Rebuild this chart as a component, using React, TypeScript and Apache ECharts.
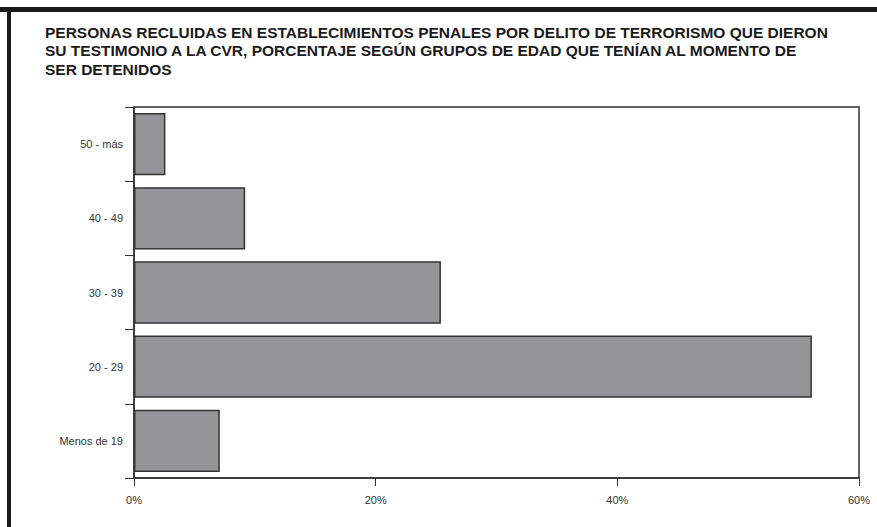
import React, { useEffect, useRef } from "react";
import * as echarts from "echarts";

const titleLines = [
  "PERSONAS RECLUIDAS EN ESTABLECIMIENTOS PENALES POR DELITO DE TERRORISMO QUE DIERON",
  "SU TESTIMONIO A LA CVR, PORCENTAJE SEGÚN GRUPOS DE EDAD QUE TENÍAN AL MOMENTO DE",
  "SER DETENIDOS",
];
const categories = ["Menos de 19", "20 - 29", "30 - 39", "40 - 49", "50 - más"];
const values = [7.1, 56.1, 25.4, 9.2, 2.6];
const xTicks = { min: 0, max: 60, interval: 20 };

export default function App() {
  const ref = useRef<HTMLDivElement>(null);
  useEffect(() => {
    if (!ref.current) return;
    const chart = echarts.init(ref.current, null, { renderer: "svg" });
    chart.setOption({
      animation: false,
      backgroundColor: "#ffffff",
      title: {
        text: titleLines.join("\n"),
        left: 45,
        top: 23,
        padding: 0,
        textStyle: {
          fontFamily: "Liberation Sans",
          fontSize: 15.5,
          fontWeight: "bold",
          color: "#1a1a1a",
          lineHeight: 18.5,
        },
      },
      graphic: [
        { type: "rect", shape: { x: 0, y: 7, width: 877, height: 5 }, style: { fill: "#1a1a1a" } },
        { type: "rect", shape: { x: 7, y: 7, width: 4, height: 520 }, style: { fill: "#1a1a1a" } },
      ],
      grid: {
        left: 134,
        right: 18,
        top: 107,
        bottom: 49,
        show: true,
        borderColor: "#333333",
        borderWidth: 1.5,
        backgroundColor: "transparent",
      },
      xAxis: {
        type: "value",
        min: xTicks.min,
        max: xTicks.max,
        interval: xTicks.interval,
        axisLine: { show: true, lineStyle: { color: "#333333", width: 1.5 } },
        axisTick: { show: true, length: 8, lineStyle: { color: "#333333" } },
        splitLine: { show: false },
        axisLabel: {
          formatter: "{value}%",
          margin: 16,
          fontFamily: "Liberation Sans",
          fontSize: 11,
          color: "#333333",
        },
      },
      yAxis: {
        type: "category",
        data: categories,
        axisLine: { show: true, lineStyle: { color: "#333333", width: 1.5 } },
        axisTick: { show: true, length: 9, alignWithLabel: false, lineStyle: { color: "#333333" } },
        axisLabel: {
          margin: 11,
          fontFamily: "Liberation Sans",
          fontSize: 11,
          color: "#333333",
        },
      },
      series: [
        {
          type: "bar",
          data: values,
          barCategoryGap: "16%",
          itemStyle: { color: "#939598", borderColor: "#333333", borderWidth: 1.5 },
        },
      ],
    });
    return () => chart.dispose();
  }, []);
  return (
    <div
      ref={ref}
      style={{ position: "fixed", left: 0, top: 0, width: 877, height: 527 }}
    />
  );
}
